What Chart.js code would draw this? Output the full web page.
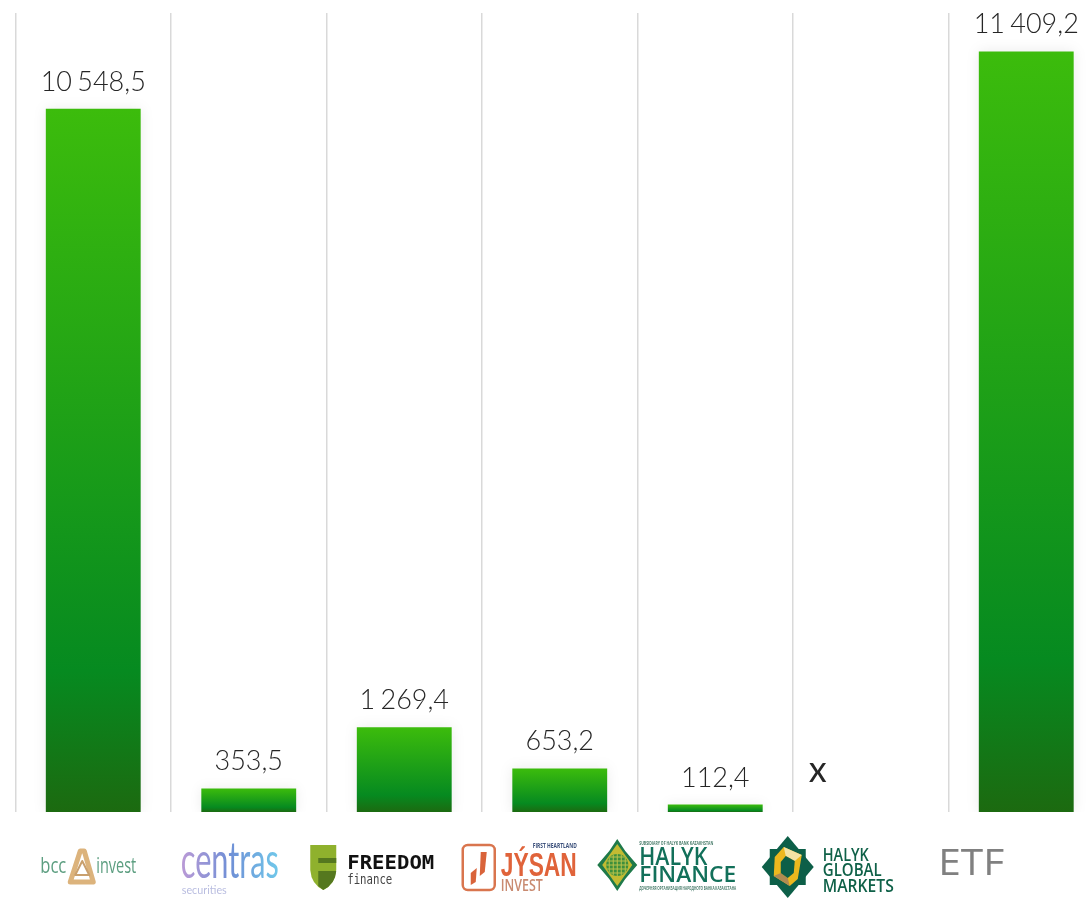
<!DOCTYPE html>
<html>
<head>
<meta charset="utf-8">
<title>Chart</title>
<script src="https://cdn.jsdelivr.net/npm/chart.js@4"></script>
<style>
  html, body { margin: 0; padding: 0; background: #fff; overflow: hidden; width: 1090px; height: 898px; }
  canvas { display: block; }
</style>
</head>
<body>
<canvas id="broker-chart" width="1110" height="898"></canvas>
<script>
// --- DATA ---
const categories = ['bcc invest', 'centras securities', 'FREEDOM finance', 'JÝSAN INVEST', 'HALYK FINANCE', 'HALYK GLOBAL MARKETS', 'ETF'];
const volumes = [10548.5, 353.5, 1269.4, 653.2, 112.4, null, 11409.2];
const missingMark = 'x';

const formatValue = (v) => v.toFixed(1).replace('.', ',').replace(/\B(?=(\d{3})+(?!\d))/g, ' ');

// Draws text squeezed to a given width, so the logos keep their proportions
function logoText(ctx, str, x, y, font, color, width) {
    ctx.font = font;
    ctx.fillStyle = color;
    ctx.textAlign = 'left';
    ctx.textBaseline = 'alphabetic';
    const natural = ctx.measureText(str).width;
    ctx.save();
    ctx.translate(x, y);
    ctx.scale(width / natural, 1);
    ctx.fillText(str, 0, 0);
    ctx.restore();
}

function polygon(ctx, pts) {
    ctx.beginPath();
    pts.forEach(([x, y], i) => (i ? ctx.lineTo(x, y) : ctx.moveTo(x, y)));
    ctx.closePath();
}

// Each logo gets the centre of its category, offsets are relative to that
const logoDrawers = [
    function bcc(ctx, cx) {
        logoText(ctx, 'bcc', cx - 53, 873, '500 21px "Open Sans"', '#5c9e80', 26);
        logoText(ctx, 'invest', cx + 3, 873, '500 21px "Open Sans"', '#5c9e80', 40);
        ctx.lineJoin = 'round';
        ctx.strokeStyle = '#dcb37c';
        ctx.lineWidth = 5;
        polygon(ctx, [[cx - 13, 851], [cx - 9, 851], [cx, 882], [cx - 23, 882]]);
        ctx.stroke();
        ctx.strokeStyle = '#c9a06e';
        ctx.lineWidth = 2;
        polygon(ctx, [[cx - 11, 861], [cx - 4, 875], [cx - 18, 875]]);
        ctx.stroke();
    },
    function centras(ctx, cx) {
        ctx.font = '400 50px Lato';
        const grad = ctx.createLinearGradient(0, 0, ctx.measureText('centras').width, 0);
        grad.addColorStop(0, '#bb9ad6');
        grad.addColorStop(0.5, '#6f8fd6');
        grad.addColorStop(1, '#70c8ea');
        logoText(ctx, 'centras', cx - 68, 878, '400 50px Lato', grad, 98);
        logoText(ctx, 'securities', cx - 67, 894, '400 12px Lato', '#b9bde0', 45);
    },
    function freedom(ctx, cx) {
        const l = cx - 94;
        ctx.fillStyle = '#8fb12d';
        ctx.beginPath();
        ctx.moveTo(l, 845);
        ctx.lineTo(l + 26, 845);
        ctx.lineTo(l + 26, 870);
        ctx.quadraticCurveTo(l + 25, 884, l + 13, 890);
        ctx.quadraticCurveTo(l + 1, 884, l, 870);
        ctx.closePath();
        ctx.fill();
        ctx.fillStyle = '#55781f';
        ctx.fillRect(l + 8, 858, 18, 5);
        ctx.beginPath();
        ctx.moveTo(l + 8, 871);
        ctx.lineTo(l + 26, 871);
        ctx.quadraticCurveTo(l + 25, 884, l + 13, 890);
        ctx.lineTo(l + 8, 886);
        ctx.closePath();
        ctx.fill();
        logoText(ctx, 'FREEDOM', cx - 57, 869, '700 20px "DejaVu Sans Mono"', '#111', 87);
        logoText(ctx, 'finance', cx - 57, 884, '400 14px "DejaVu Sans Mono"', '#444', 45);
    },
    function jysan(ctx, cx) {
        const l = cx - 98;
        ctx.strokeStyle = '#d9754e';
        ctx.lineWidth = 2.5;
        ctx.beginPath();
        ctx.roundRect(l + 1, 845, 32, 45, 5);
        ctx.stroke();
        ctx.fillStyle = '#d9633a';
        polygon(ctx, [[l + 19, 852], [l + 25, 852], [l + 23, 872], [l + 18, 876]]);
        ctx.fill();
        polygon(ctx, [[l + 9, 873], [l + 15, 868], [l + 14, 882], [l + 9, 885]]);
        ctx.fill();
        logoText(ctx, 'JÝSAN', cx - 59, 876, '700 33px "Liberation Sans"', '#e0633a', 76);
        logoText(ctx, 'INVEST', cx - 59, 891, '600 16px "Open Sans"', '#c98a70', 42);
        logoText(ctx, 'FIRST HEARTLAND', cx - 27, 848, '700 7px "Open Sans"', '#3a4f7a', 44);
    },
    function halyk(ctx, cx) {
        const gx = cx - 98, gy = 865;
        ctx.fillStyle = '#1f7a4a';
        polygon(ctx, [[gx, gy - 26], [gx + 8, gy - 14], [gx + 20, gy], [gx + 8, gy + 14], [gx, gy + 26], [gx - 8, gy + 14], [gx - 20, gy], [gx - 8, gy - 14]]);
        ctx.fill();
        ctx.fillStyle = '#c2bb32';
        polygon(ctx, [[gx, gy - 21], [gx + 15, gy], [gx, gy + 21], [gx - 15, gy]]);
        ctx.fill();
        ctx.fillStyle = '#3e8f3c';
        ctx.beginPath();
        ctx.arc(gx, gy, 11, 0, Math.PI * 2);
        ctx.fill();
        ctx.strokeStyle = '#b9c24a';
        ctx.lineWidth = 1;
        for (let d = -8; d <= 8; d += 4) {
            const half = Math.sqrt(121 - d * d);
            ctx.beginPath();
            ctx.moveTo(gx + d, gy - half);
            ctx.lineTo(gx + d, gy + half);
            ctx.moveTo(gx - half, gy + d);
            ctx.lineTo(gx + half, gy + d);
            ctx.stroke();
        }
        logoText(ctx, 'SUBSIDIARY OF HALYK BANK KAZAKHSTAN', cx - 76, 845, '700 5px "Open Sans"', '#4a7d6c', 74);
        logoText(ctx, 'HALYK', cx - 76, 865, '600 25px "Open Sans"', '#12705a', 68);
        logoText(ctx, 'FINANCE', cx - 76, 882, '600 21px "Open Sans"', '#12705a', 97);
        logoText(ctx, 'ДОЧЕРНЯЯ ОРГАНИЗАЦИЯ НАРОДНОГО БАНКА КАЗАХСТАНА', cx - 76, 890, '700 5px "Open Sans"', '#4a7d6c', 97);
    },
    function hgm(ctx, cx) {
        const sx = cx - 83, sy = 867;
        ctx.fillStyle = '#0d5f48';
        polygon(ctx, [[sx - 18, sy - 18], [sx + 18, sy - 18], [sx + 18, sy + 18], [sx - 18, sy + 18]]);
        ctx.fill();
        polygon(ctx, [[sx, sy - 31], [sx + 26, sy], [sx, sy + 31], [sx - 26, sy]]);
        ctx.fill();
        ctx.fillStyle = '#ecb81e';
        polygon(ctx, [[sx - 4, sy - 20], [sx + 14, sy - 12], [sx + 10, sy + 12], [sx + 2, sy + 19], [sx - 14, sy + 9], [sx - 13, sy - 10]]);
        ctx.fill();
        ctx.fillStyle = '#f3e3a4';
        polygon(ctx, [[sx - 4, sy - 20], [sx + 14, sy - 12], [sx + 7, sy - 6], [sx - 2, sy - 11]]);
        ctx.fill();
        ctx.fillStyle = '#b08a52';
        polygon(ctx, [[sx - 14, sy + 9], [sx - 7, sy + 6], [sx, sy + 11], [sx + 2, sy + 19]]);
        ctx.fill();
        ctx.fillStyle = '#0d5f48';
        polygon(ctx, [[sx - 2, sy - 11], [sx + 7, sy - 6], [sx + 6, sy + 6], [sx, sy + 11], [sx - 7, sy + 6], [sx - 7, sy - 5]]);
        ctx.fill();
        const tx = cx - 48;
        logoText(ctx, 'HALYK', tx, 861, '600 18px "Open Sans"', '#0f6148', 46);
        logoText(ctx, 'GLOBAL', tx, 876, '600 18px "Open Sans"', '#0f6148', 59);
        logoText(ctx, 'MARKETS', tx, 892, '600 18px "Open Sans"', '#0f6148', 71);
    },
    function etf(ctx, cx) {
        logoText(ctx, 'ETF', cx - 88, 875, '400 37px "Open Sans"', '#808080', 66);
    }
];

// --- PLUGINS ---
const barShadow = {
    id: 'barShadow',
    beforeDatasetDraw(chart) {
        chart.ctx.save();
        chart.ctx.shadowColor = 'rgba(0, 0, 0, 0.08)';
        chart.ctx.shadowBlur = 12;
    },
    afterDatasetDraw(chart) {
        chart.ctx.restore();
    }
};

const valueLabels = {
    id: 'valueLabels',
    afterDatasetsDraw(chart) {
        const { ctx } = chart;
        const xScale = chart.scales.x;
        const yScale = chart.scales.y;
        ctx.save();
        ctx.textAlign = 'center';
        ctx.textBaseline = 'alphabetic';
        ctx.fillStyle = '#262626';
        ctx.wordSpacing = '-2px';
        volumes.forEach((v, i) => {
            const cx = xScale.getPixelForValue(i);
            if (v === null) {
                ctx.font = '400 36px Lato';
                ctx.fillText(missingMark, cx - 53, 782);
                return;
            }
            ctx.font = '300 27px Lato';
            ctx.fillText(formatValue(v), cx, yScale.getPixelForValue(v) - 18);
        });
        ctx.restore();
    }
};

const logos = {
    id: 'logos',
    afterDraw(chart) {
        const { ctx } = chart;
        categories.forEach((name, i) => {
            ctx.save();
            logoDrawers[i](ctx, chart.scales.x.getPixelForValue(i));
            ctx.restore();
        });
    }
};

// --- CHART ---
function barGradient(context) {
    const { chart, dataIndex } = context;
    const v = volumes[dataIndex];
    if (!chart.chartArea || v === null) return '#3cbb0c';
    const yScale = chart.scales.y;
    const grad = chart.ctx.createLinearGradient(0, yScale.getPixelForValue(v), 0, yScale.getPixelForValue(0));
    grad.addColorStop(0, '#3cbc0c');
    grad.addColorStop(0.8, '#068a20');
    grad.addColorStop(1, '#1c6a10');
    return grad;
}

function drawChart() {
    new Chart(document.getElementById('broker-chart'), {
        type: 'bar',
        data: {
            labels: categories,
            datasets: [{
                data: volumes,
                backgroundColor: barGradient,
                barPercentage: 0.61,
                categoryPercentage: 1
            }]
        },
        options: {
            responsive: false,
            animation: false,
            layout: { padding: { left: 15.5, right: 6, top: 13, bottom: 86 } },
            plugins: { legend: { display: false }, tooltip: { enabled: false } },
            scales: {
                x: {
                    grid: { color: '#d9d9d9', lineWidth: 1.5, drawTicks: false },
                    border: { display: false },
                    ticks: { display: false }
                },
                y: { display: false, min: 0, max: 11985 }
            }
        },
        plugins: [barShadow, valueLabels, logos]
    });
}

document.fonts.load('300 27px Lato').finally(drawChart);
</script>
</body>
</html>
